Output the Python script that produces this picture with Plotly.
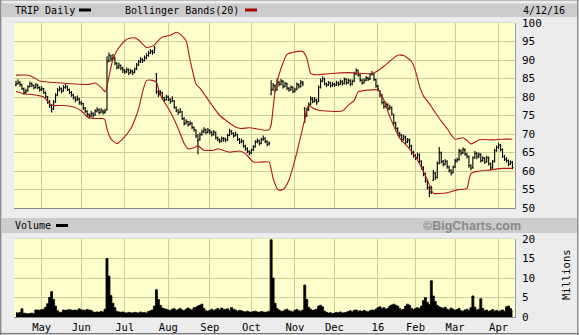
import plotly.graph_objects as go
import pandas as pd

# ---------------- data ----------------
holidays = ["2015-05-25", "2015-07-03", "2015-09-07", "2015-11-26", "2015-12-25",
            "2016-01-01", "2016-01-18", "2016-02-15", "2016-03-25"]
month_labels = ["May", "Jun", "Jul", "Aug", "Sep", "Oct", "Nov", "Dec", "16", "Feb", "Mar", "Apr"]

opens = [
    83.2, 83.6, 84.0, 83.3, 82.2, 81.3, 81.7, 82.9, 83.5, 83.1,
    82.6, 83.2, 82.5, 82.1, 82.2, 81.1, 80.0, 78.7, 77.6, 76.9,
    78.7, 80.6, 81.9, 82.2, 81.7, 82.6, 82.8, 82.0, 81.2, 80.5,
    79.8, 79.3, 79.5, 78.4, 78.2, 77.0, 76.1, 75.2, 74.9, 75.5,
    75.1, 76.2, 76.5, 75.9, 76.3, 75.9, 76.5, 89.8, 91.0, 90.4,
    90.6, 89.1, 88.1, 88.5, 87.7, 87.1, 86.9, 87.3, 86.6, 87.0,
    86.7, 87.6, 88.7, 89.6, 90.1, 89.9, 90.6, 91.2, 91.9, 92.3,
    92.1, 86.0, 81.4, 80.7, 81.1, 79.8, 79.3, 80.0, 79.3, 78.9,
    79.0, 77.1, 76.3, 75.9, 76.0, 74.1, 72.9, 73.3, 72.6, 72.9,
    71.7, 71.0, 68.0, 68.6, 69.9, 70.6, 71.1, 70.5, 70.9, 70.4,
    69.9, 70.4, 68.9, 68.4, 68.1, 68.7, 68.7, 68.4, 69.7, 70.7,
    70.1, 69.6, 69.8, 68.5, 67.9, 68.0, 66.7, 66.0, 65.2, 64.9,
    65.7, 66.6, 67.9, 68.1, 67.5, 68.4, 68.7, 67.9, 67.3, 80.8,
    82.1, 83.0, 82.0, 83.9, 83.5, 84.2, 82.9, 83.5, 82.3, 82.0,
    82.5, 81.6, 82.1, 83.3, 82.9, 83.9, 76.8, 75.1, 76.6, 78.1,
    79.4, 78.9, 79.1, 78.8, 82.6, 84.3, 84.9, 83.5, 83.3, 83.7,
    83.1, 83.4, 83.3, 83.8, 83.5, 84.1, 83.7, 84.7, 83.9, 84.4,
    83.5, 84.3, 86.3, 87.1, 85.9, 84.5, 83.9, 84.6, 85.1, 84.9,
    86.1, 86.2, 84.7, 82.9, 81.5, 80.4, 78.5, 77.5, 77.9, 76.9,
    77.1, 75.2, 72.9, 71.4, 70.1, 69.7, 68.6, 69.1, 67.9, 68.3,
    66.7, 65.1, 64.1, 63.7, 64.3, 62.5, 60.9, 59.1, 57.3, 55.5,
    54.4, 57.5, 59.4, 58.3, 62.1, 64.9, 62.6, 61.9, 62.5, 61.1,
    60.1, 59.6, 61.1, 62.7, 63.1, 65.4, 64.9, 65.7, 64.5, 63.9,
    61.4, 60.9, 63.6, 64.7, 63.9, 64.4, 62.9, 63.4, 62.5, 63.5,
    61.9, 60.9, 62.6, 65.6, 66.3, 66.9, 65.7, 63.9, 63.1, 62.7, 61.9, 62.3,
]
highs = [
    84.4, 84.8, 84.3, 83.6, 82.6, 82.2, 83.2, 84.2, 84.0, 83.4,
    83.8, 83.5, 82.9, 82.9, 82.4, 81.5, 80.3, 79.2, 78.0, 79.2,
    81.0, 82.4, 82.9, 82.6, 83.2, 83.6, 83.1, 82.3, 81.6, 80.9,
    80.2, 80.4, 79.8, 79.0, 78.4, 77.3, 76.4, 75.6, 76.2, 75.9,
    76.7, 77.2, 76.9, 77.0, 76.6, 76.8, 91.0, 92.0, 91.5, 91.6,
    90.9, 89.4, 89.3, 88.8, 88.2, 87.6, 88.0, 87.7, 87.6, 87.3,
    88.0, 89.2, 90.1, 90.8, 90.5, 91.2, 91.8, 92.4, 93.0, 92.8,
    93.8, 86.5, 81.9, 81.8, 81.4, 80.1, 80.6, 80.4, 79.7, 80.2,
    79.2, 77.5, 76.7, 77.0, 76.2, 74.5, 74.0, 73.6, 73.6, 73.2,
    72.0, 71.3, 70.0, 70.4, 71.2, 71.8, 71.5, 71.6, 71.3, 70.8,
    71.1, 70.7, 69.3, 68.8, 69.3, 69.2, 69.0, 70.1, 71.4, 71.1,
    70.5, 70.6, 70.1, 68.9, 68.8, 68.3, 67.1, 66.4, 65.6, 66.1,
    67.0, 68.3, 68.8, 68.5, 69.0, 69.6, 69.1, 68.3, 68.0, 84.5,
    83.8, 83.4, 85.0, 84.4, 84.9, 84.6, 84.1, 83.9, 82.7, 83.1,
    82.9, 82.5, 83.9, 83.7, 84.6, 84.3, 77.3, 77.0, 78.5, 80.2,
    79.9, 80.0, 79.6, 83.2, 85.0, 85.6, 85.2, 83.9, 84.3, 84.1,
    84.0, 83.8, 84.4, 84.2, 84.7, 84.5, 85.3, 85.1, 85.0, 84.8,
    84.7, 86.8, 87.8, 87.4, 86.2, 84.9, 85.0, 85.7, 85.5, 86.5,
    87.0, 86.5, 85.0, 83.3, 81.9, 80.8, 78.9, 78.7, 78.3, 77.9,
    77.4, 75.5, 73.3, 71.8, 70.6, 70.0, 69.8, 69.5, 68.9, 68.7,
    67.1, 65.5, 64.5, 65.0, 64.7, 62.9, 61.3, 59.5, 57.7, 55.9,
    56.0, 60.3, 59.8, 62.6, 66.5, 65.3, 63.0, 63.2, 62.9, 61.5,
    60.5, 61.5, 63.3, 63.6, 66.0, 65.8, 66.4, 66.1, 64.9, 64.2,
    61.8, 64.0, 65.4, 65.1, 65.0, 64.8, 64.0, 63.8, 64.1, 63.9,
    62.3, 63.0, 66.0, 66.9, 67.6, 67.3, 66.1, 64.3, 63.7, 63.1, 62.9, 62.7,
]
lows = [
    82.9, 83.3, 82.8, 81.9, 80.6, 80.9, 81.4, 82.6, 82.7, 82.0,
    82.3, 82.1, 81.4, 81.6, 80.8, 79.6, 78.2, 77.0, 75.8, 76.5,
    78.4, 80.2, 81.5, 81.0, 81.4, 82.2, 81.6, 80.8, 80.1, 79.3,
    78.6, 78.9, 77.9, 77.8, 76.5, 75.6, 74.6, 74.2, 74.6, 74.4,
    74.9, 75.8, 75.3, 75.6, 75.3, 75.5, 76.3, 89.4, 89.6, 90.0,
    88.6, 87.4, 87.6, 87.2, 86.5, 86.2, 86.5, 85.9, 86.2, 85.9,
    86.4, 87.3, 88.4, 89.2, 89.2, 89.6, 90.2, 90.9, 91.6, 91.4,
    91.8, 80.8, 80.0, 80.3, 79.2, 78.6, 79.0, 78.9, 78.2, 78.6,
    76.8, 75.9, 75.2, 75.6, 73.8, 72.3, 72.6, 72.0, 72.3, 71.3,
    70.6, 68.9, 64.5, 68.2, 69.5, 70.2, 69.9, 70.2, 69.9, 69.3,
    69.6, 68.5, 68.0, 67.5, 67.8, 67.9, 67.8, 68.1, 69.4, 69.8,
    69.0, 69.3, 68.1, 67.3, 67.5, 66.3, 65.5, 64.8, 64.2, 64.6,
    65.4, 66.3, 67.5, 66.9, 67.2, 68.2, 67.5, 66.7, 66.9, 80.5,
    81.7, 81.2, 81.7, 82.9, 83.1, 82.3, 82.6, 81.9, 81.4, 81.7,
    81.0, 81.2, 81.8, 82.3, 82.6, 83.0, 73.0, 74.6, 76.2, 77.8,
    78.3, 78.5, 77.9, 78.6, 82.3, 84.0, 83.2, 82.7, 83.0, 82.6,
    82.8, 82.7, 83.0, 82.9, 83.2, 83.1, 83.4, 83.3, 83.5, 82.9,
    83.2, 84.0, 85.9, 85.5, 84.1, 83.3, 83.6, 84.2, 84.3, 84.6,
    85.8, 84.3, 82.5, 81.6, 79.9, 78.0, 76.8, 77.1, 76.2, 76.5,
    75.0, 72.4, 70.9, 69.6, 69.0, 67.9, 68.2, 67.2, 67.5, 66.2,
    64.4, 63.6, 63.0, 63.3, 62.0, 60.4, 58.6, 56.8, 55.0, 53.0,
    53.8, 57.2, 57.6, 58.0, 61.8, 62.0, 61.2, 61.5, 60.6, 59.6,
    58.8, 59.3, 60.8, 62.3, 62.8, 64.2, 64.6, 64.1, 63.4, 60.9,
    60.2, 60.6, 63.3, 63.2, 63.5, 62.3, 62.5, 61.9, 62.2, 61.5,
    60.2, 60.6, 62.3, 65.2, 66.0, 65.3, 63.5, 62.7, 62.3, 61.3, 61.6, 60.5,
]
closes = [
    83.6, 84.0, 83.4, 82.3, 81.2, 81.6, 82.8, 83.6, 83.2, 82.5,
    83.3, 82.6, 82.0, 82.3, 81.2, 80.0, 78.8, 77.6, 76.8, 78.6,
    80.5, 81.8, 82.3, 81.6, 82.6, 82.9, 82.0, 81.3, 80.6, 79.8,
    79.2, 79.6, 78.5, 78.3, 77.0, 76.2, 75.3, 74.8, 75.6, 75.0,
    76.2, 76.6, 75.8, 76.4, 75.9, 76.2, 89.5, 91.2, 90.3, 90.8,
    89.2, 88.0, 88.6, 87.8, 87.2, 86.8, 87.4, 86.5, 87.0, 86.6,
    87.5, 88.6, 89.5, 90.2, 89.8, 90.6, 91.2, 91.8, 92.4, 92.0,
    93.2, 81.5, 80.6, 81.2, 79.8, 79.2, 80.0, 79.4, 78.8, 79.6,
    77.2, 76.4, 75.8, 76.5, 74.2, 72.8, 73.4, 72.5, 73.0, 71.8,
    71.2, 69.5, 68.3, 69.8, 70.6, 71.2, 70.4, 71.0, 70.5, 69.8,
    70.6, 69.0, 68.5, 68.0, 68.8, 68.6, 68.3, 69.6, 70.8, 70.2,
    69.5, 70.0, 68.6, 67.8, 68.2, 66.8, 66.0, 65.3, 64.8, 65.6,
    66.5, 67.8, 68.2, 67.4, 68.5, 68.8, 68.0, 67.2, 67.5, 82.0,
    83.2, 81.8, 84.0, 83.4, 84.3, 82.8, 83.6, 82.4, 81.9, 82.6,
    81.5, 82.0, 83.4, 82.8, 84.0, 83.5, 75.0, 76.5, 78.0, 79.5,
    78.8, 79.2, 78.4, 82.5, 84.3, 85.0, 83.6, 83.2, 83.8, 83.0,
    83.5, 83.2, 83.9, 83.4, 84.2, 83.6, 84.8, 83.8, 84.5, 83.4,
    84.2, 86.2, 87.2, 86.0, 84.6, 83.8, 84.5, 85.2, 84.8, 86.0,
    86.4, 84.8, 83.0, 82.2, 80.5, 78.6, 77.4, 78.0, 76.8, 77.2,
    75.6, 73.0, 71.5, 70.2, 69.8, 68.5, 69.2, 67.8, 68.4, 66.8,
    65.0, 64.2, 63.6, 64.4, 62.6, 61.0, 59.2, 57.4, 55.6, 54.3,
    55.4, 59.5, 58.2, 62.0, 65.0, 62.5, 61.8, 62.6, 61.2, 60.2,
    59.5, 61.0, 62.8, 63.0, 65.5, 64.8, 65.8, 64.6, 64.0, 61.5,
    60.8, 63.5, 64.8, 63.8, 64.5, 62.8, 63.5, 62.4, 63.6, 62.0,
    60.8, 62.5, 65.5, 66.4, 67.0, 65.8, 64.0, 63.2, 62.8, 61.8, 62.4, 61.0,
]
volume_m = [
    1.1, 1.0, 1.2, 2.1, 1.0, 0.9, 0.8, 0.9, 1.0, 0.9,
    1.8, 1.8, 1.7, 1.9, 2.0, 2.5, 3.4, 5.0, 6.5, 4.5,
    2.8, 1.6, 1.2, 1.2, 1.8, 1.7, 1.8, 1.9, 1.8, 1.7,
    1.8, 1.7, 2.1, 1.8, 1.8, 1.7, 1.9, 1.8, 1.7, 1.3,
    1.2, 1.3, 1.2, 1.4, 1.3, 2.0, 15.0, 10.5, 5.5, 3.5,
    2.4, 1.4, 1.3, 1.2, 1.3, 1.1, 1.0, 1.2, 1.1, 1.0,
    1.2, 1.1, 1.0, 1.3, 1.1, 1.2, 1.0, 1.4, 1.6, 1.8,
    2.8, 7.0, 4.5, 3.0, 2.3, 2.1, 2.0, 1.8, 1.6, 2.0,
    2.1, 1.7, 1.9, 2.2, 1.8, 1.6, 2.0, 2.3, 2.0, 1.8,
    2.4, 2.5, 2.8, 3.0, 3.3, 2.2, 1.6, 1.5, 1.7, 2.0,
    1.6, 1.9, 2.2, 1.8, 2.3, 2.0, 1.9, 2.1, 1.7, 2.4,
    2.0, 1.8, 1.5, 1.7, 1.6, 1.4, 1.3, 1.5, 1.3, 1.2,
    1.4, 1.5, 1.3, 1.2, 1.4, 1.3, 1.2, 1.3, 1.5, 19.8,
    10.0, 3.5, 2.2, 1.8, 1.5, 1.4, 1.8, 2.0, 1.6, 1.5,
    1.3, 1.7, 1.9, 1.6, 1.5, 1.8, 8.2, 4.5, 2.5, 2.0,
    1.7, 1.8, 2.0, 2.8, 3.0, 2.6, 1.5, 1.2, 1.0, 1.1,
    0.9, 1.0, 1.2, 1.1, 1.3, 1.0, 1.1, 1.2, 1.4, 1.6,
    1.3, 1.7, 1.8, 1.5, 1.6, 1.4, 1.7, 1.5, 1.3, 1.6,
    1.8, 1.7, 2.0, 2.4, 2.6, 2.2, 2.4, 2.0, 2.2, 2.8,
    3.1, 3.3, 3.0, 2.8, 2.2, 1.8, 2.0, 2.8, 3.3, 3.0,
    2.2, 1.9, 2.2, 2.4, 2.2, 2.8, 4.2, 5.0, 3.8, 3.2,
    9.3, 5.4, 4.0, 3.0, 2.6, 2.4, 2.2, 2.5, 2.0, 1.8,
    2.3, 2.0, 1.7, 1.9, 2.2, 1.6, 1.5, 1.8, 2.0, 1.7,
    2.4, 5.4, 2.5, 1.8, 2.0, 4.7, 2.2, 1.6, 1.8, 1.4,
    1.6, 1.9, 1.5, 1.7, 1.4, 1.6, 1.8, 1.5, 2.6, 2.8, 2.2, 1.6,
]

# Bollinger Bands(20) at these trading-day positions
bb_upper_day = [0, 6, 9, 12, 17, 25, 30, 37, 40, 43, 45, 46, 47, 48, 49, 51, 53, 55, 57, 60,
                62, 64, 66, 68, 70, 72, 74, 78, 81, 83, 86, 88, 91, 93, 98, 103,
                111, 114, 118, 126, 128, 129, 130, 131, 132, 134, 137, 141, 145, 147, 149, 152,
                158, 168, 174, 180, 183, 186, 189, 193, 196, 200, 202, 204, 206, 209, 212, 215,
                218, 220, 222, 224, 226, 228, 230, 232, 234, 237, 241, 246, 251]
bb_upper = [85.9, 85.9, 85.3, 84.3, 84.0, 83.7, 83.5, 83.4, 83.8, 82.6, 81.4, 82.7, 85.5, 88.0,
            90.2, 92.5, 94.0, 95.2, 95.8, 96.0, 95.4, 94.3, 93.4, 93.6, 94.1, 95.3, 96.2, 96.7,
            97.5, 97.0, 95.2, 90.0, 83.5, 82.4, 78.6, 75.0,
            71.9, 71.5, 71.7, 71.0, 71.2, 72.5, 77.0, 81.5, 84.0, 87.7, 91.5, 92.2, 92.3, 90.6,
            86.4, 86.0, 86.3, 86.6, 86.4, 86.3, 87.1, 88.3, 89.7, 91.3, 91.2, 89.6, 87.0, 83.0,
            80.3, 78.2, 75.8, 73.5, 71.5, 69.8, 68.6, 68.8, 69.0, 68.3, 67.3, 67.8, 68.4, 68.5,
            68.4, 68.6, 68.6]
bb_lower_day = [0, 4, 9, 14, 17, 19, 24, 29, 33, 36, 39, 44, 45, 46, 48, 51, 54, 58, 60, 62,
                64, 66, 69, 71, 73, 78, 82, 85, 87, 90, 92, 95, 100, 102,
                108, 113, 116, 120, 128, 129, 130, 131, 132, 133, 135, 136, 138, 140, 142, 144,
                146, 147, 148, 150, 153, 165, 168, 171, 173, 177, 183, 186, 189, 194, 198, 203,
                208, 211, 218, 223, 228, 229, 230, 233, 240, 246, 251]
bb_lower = [81.5, 80.9, 80.6, 80.0, 78.2, 77.7, 77.7, 77.3, 76.3, 74.6, 74.2, 74.2, 73.8, 71.4,
            68.7, 67.4, 68.7, 71.4, 73.8, 76.8, 81.4, 84.5, 84.5, 84.0, 80.5, 76.0, 71.5, 67.5,
            66.0, 66.3, 66.8, 65.6, 65.6, 66.0,
            65.1, 65.4, 64.7, 62.4, 62.4, 60.5, 58.0, 56.5, 55.3, 54.8, 55.0, 55.5, 57.5, 61.0,
            65.0, 69.5, 74.0, 76.5, 77.8, 77.0, 76.4, 76.2, 77.8, 79.1, 81.4, 81.8, 81.9, 79.2,
            74.7, 68.9, 66.6, 63.0, 57.6, 54.0, 54.1, 54.9, 55.3, 57.5, 59.3, 59.9, 60.3, 60.7,
            60.7]

n = len(closes)
assert len(opens) == n and len(highs) == n and len(lows) == n and len(volume_m) == n
assert len(bb_upper_day) == len(bb_upper) and len(bb_lower_day) == len(bb_lower)

dates = [d for d in pd.bdate_range("2015-04-14", "2016-04-12") if d.strftime("%Y-%m-%d") not in holidays]
assert len(dates) == n, len(dates)
day = list(range(n))
month_start = [i for i in range(1, n) if dates[i].month != dates[i - 1].month]

# ---------------- layout helpers (pixel -> paper) ----------------
W, H = 579, 335
def px(x):
    return x / W
def py(y):
    return 1 - y / H

MONO = "DejaVu Sans Mono"
GRID = "#cccc99"
RED = "#b01818"
x_range = [-1.01, 252.3]

fig = go.Figure()
fig.add_trace(go.Ohlc(
    x=day, open=opens, high=highs, low=lows, close=closes,
    increasing=dict(line=dict(color="black", width=1.1)),
    decreasing=dict(line=dict(color="black", width=1.1)),
    tickwidth=0.5, xaxis="x", yaxis="y", showlegend=False, hoverinfo="skip"))
fig.add_trace(go.Scatter(x=bb_upper_day, y=bb_upper, mode="lines",
                         line=dict(color=RED, width=1.1, shape="spline", smoothing=0.5),
                         xaxis="x", yaxis="y", showlegend=False, hoverinfo="skip"))
fig.add_trace(go.Scatter(x=bb_lower_day, y=bb_lower, mode="lines",
                         line=dict(color=RED, width=1.1, shape="spline", smoothing=0.5),
                         xaxis="x", yaxis="y", showlegend=False, hoverinfo="skip"))
fig.add_trace(go.Scatter(x=day, y=volume_m, mode="lines",
                         line=dict(color="black", width=0.8, shape="hvh"),
                         fill="tozeroy", fillcolor="black",
                         xaxis="x2", yaxis="y2", showlegend=False, hoverinfo="skip"))

axis_font = dict(family=MONO, size=11, color="black")
fig.update_layout(
    width=W, height=H, margin=dict(l=0, r=0, t=0, b=0, autoexpand=False),
    paper_bgcolor="#ececec", plot_bgcolor="#ffffcc",
    showlegend=False,
    xaxis=dict(domain=[px(14), px(515)], anchor="y", range=x_range,
               tickvals=month_start, showticklabels=False, ticks="",
               showgrid=True, gridcolor=GRID, gridwidth=1, zeroline=False,
               rangeslider=dict(visible=False), fixedrange=True),
    yaxis=dict(domain=[py(208), py(23)], range=[50, 100], dtick=5, side="right",
               showgrid=True, gridcolor=GRID, gridwidth=1, zeroline=False, ticks="",
               ticklabelstandoff=6, tickfont=axis_font),
    xaxis2=dict(domain=[px(14), px(515)], anchor="y2", range=x_range,
                tickvals=month_start, ticktext=month_labels, ticks="",
                ticklabelstandoff=2,
                showgrid=True, gridcolor=GRID, gridwidth=1, zeroline=False,
                tickfont=dict(family=MONO, size=10.5, color="black")),
    yaxis2=dict(domain=[py(317), py(239)], range=[0, 20], dtick=5, side="right",
                showgrid=True, gridcolor=GRID, gridwidth=1, zeroline=False, ticks="",
                ticklabelstandoff=6, tickfont=axis_font),
)

shapes = []
def rect(x0, y0, x1, y1, fill=None, line=None, lw=1):
    shapes.append(dict(type="rect", xref="paper", yref="paper",
                       x0=px(x0), x1=px(x1), y0=py(y1), y1=py(y0),
                       fillcolor=fill if fill else "rgba(0,0,0,0)",
                       line=dict(color=line if line else "rgba(0,0,0,0)", width=lw if line else 0),
                       layer="below" if fill else "above"))
def hline(x0, x1, y, color, lw=1):
    shapes.append(dict(type="line", xref="paper", yref="paper", x0=px(x0), x1=px(x1),
                       y0=py(y), y1=py(y), line=dict(color=color, width=lw)))
def vline(x, y0, y1, color, lw=1):
    shapes.append(dict(type="line", xref="paper", yref="paper", x0=px(x), x1=px(x),
                       y0=py(y0), y1=py(y1), line=dict(color=color, width=lw)))

# header bars
rect(2, 3.5, 577, 17, fill="#cccccc")
rect(2, 218, 577, 233, fill="#cccccc")
# legend swatches
rect(79, 8.5, 91, 11.5, fill="black")
rect(245, 8.5, 257, 11.5, fill="#aa0000")
rect(56, 224, 68, 227, fill="black")
# plot frames
for (t, b) in [(23, 208), (239, 317)]:
    hline(14, 515.5, b + 0.5, "#888888", 1.2)
    vline(515.5, t, b + 0.5, "#999999", 1)
    hline(14, 515, t - 0.5, "#e0e0c0", 1)
# outer border
hline(0, 579, 0.5, "#bbbbbb", 1)
vline(0.7, 0, 335, "#888888", 1.3)
vline(577.8, 0, 335, "#888888", 1.3)
hline(0, 579, 333.6, "#777777", 1.3)

annotations = []
def text(x, y, s, anchor="left", size=10, color="black", family=MONO, angle=0):
    annotations.append(dict(xref="paper", yref="paper", x=px(x), y=py(y), text=s,
                            showarrow=False, xanchor=anchor, yanchor="middle",
                            textangle=angle, borderpad=0,
                            font=dict(family=family, size=size, color=color)))
text(14, 10.5, "TRIP Daily")
text(124, 10.5, "Bollinger Bands(20)")
text(522, 10.5, "4/12/16")
text(14, 225.5, "Volume")
text(422, 225.5, "<b>©BigCharts.com</b>", anchor="left", size=12.5, color="#888888",
     family="Liberation Sans, Arial, sans-serif")
text(566, 275, "Millions", anchor="center", size=10.5, angle=-90)

fig.update_layout(shapes=shapes, annotations=annotations)
fig.write_html("out.html")
